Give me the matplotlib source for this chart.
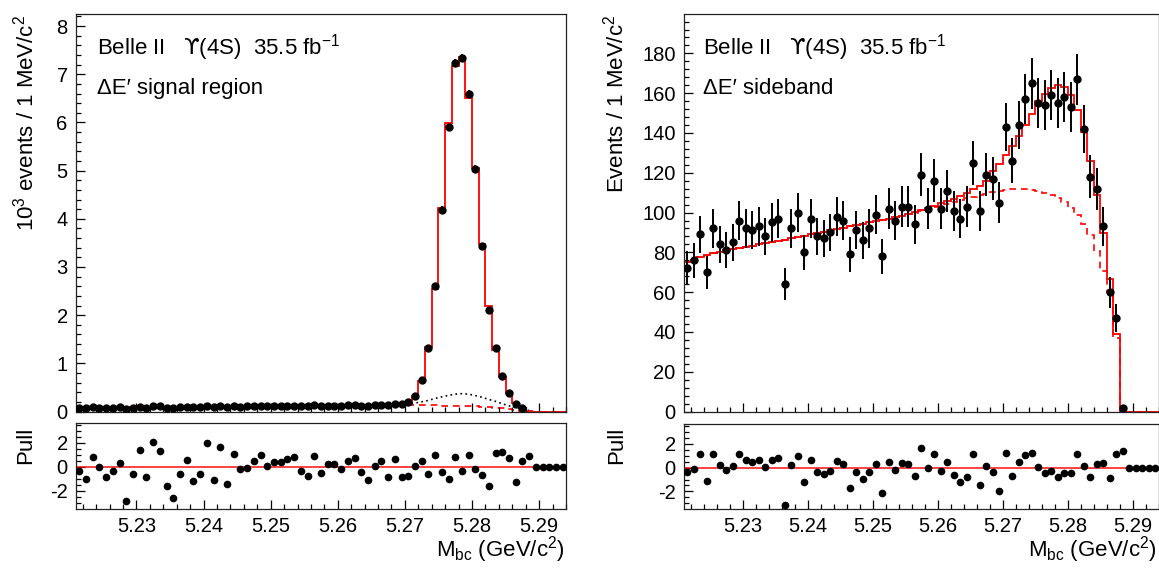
import numpy as np
import matplotlib.pyplot as plt
from matplotlib.ticker import MultipleLocator, FormatStrFormatter

plt.rcParams['font.family'] = ['Liberation Sans', 'DejaVu Sans']
plt.rcParams['mathtext.fontset'] = 'custom'
plt.rcParams['mathtext.rm'] = 'Liberation Sans'
plt.rcParams['mathtext.it'] = 'Liberation Sans:italic'
plt.rcParams['mathtext.bf'] = 'Liberation Sans:bold'
plt.rcParams['mathtext.sf'] = 'DejaVu Sans'
plt.rcParams['mathtext.default'] = 'regular'
plt.rcParams['axes.unicode_minus'] = False

# M_bc binning: 73 bins of 1 MeV/c^2
mbc_lo = 5.221
mbc_hi = 5.294
n_bins = 73

# Delta E' signal region, in units of 10^3 events
sig_data = [0.077, 0.072, 0.089, 0.083, 0.076, 0.082, 0.089, 0.061, 0.083, 0.102,
            0.082, 0.110, 0.105, 0.077, 0.069, 0.090, 0.101, 0.085, 0.092, 0.119,
            0.089, 0.117, 0.087, 0.114, 0.102, 0.104, 0.111, 0.117, 0.109, 0.114,
            0.114, 0.118, 0.120, 0.109, 0.106, 0.125, 0.110, 0.119, 0.120, 0.117,
            0.125, 0.129, 0.118, 0.114, 0.131, 0.141, 0.130, 0.154, 0.147, 0.190,
            0.321, 0.652, 1.310, 2.600, 4.190, 5.900, 7.240, 7.330, 6.590, 5.040,
            3.440, 2.110, 1.310, 0.740, 0.390, 0.160, 0.070, 0, 0, 0, 0, 0, 0]
sig_fit = [0.080, 0.081, 0.082, 0.083, 0.084, 0.085, 0.086, 0.087, 0.088, 0.089,
           0.090, 0.091, 0.092, 0.093, 0.094, 0.095, 0.096, 0.097, 0.098, 0.099,
           0.100, 0.101, 0.102, 0.103, 0.104, 0.105, 0.106, 0.107, 0.108, 0.109,
           0.110, 0.111, 0.112, 0.113, 0.114, 0.115, 0.116, 0.117, 0.118, 0.119,
           0.120, 0.121, 0.123, 0.126, 0.130, 0.136, 0.140, 0.146, 0.158, 0.200,
           0.320, 0.640, 1.330, 2.550, 4.220, 5.980, 7.170, 7.360, 6.510, 5.060,
           3.480, 2.180, 1.270, 0.710, 0.380, 0.180, 0.080, 0.001, 0, 0, 0, 0, 0]
sig_comb = [0.080, 0.081, 0.082, 0.083, 0.084, 0.085, 0.086, 0.087, 0.088, 0.089,
            0.090, 0.091, 0.092, 0.093, 0.094, 0.095, 0.096, 0.097, 0.098, 0.099,
            0.100, 0.101, 0.102, 0.103, 0.104, 0.105, 0.106, 0.107, 0.108, 0.109,
            0.110, 0.111, 0.112, 0.113, 0.114, 0.115, 0.116, 0.117, 0.118, 0.119,
            0.120, 0.121, 0.123, 0.125, 0.126, 0.127, 0.128, 0.128, 0.128, 0.128,
            0.128, 0.127, 0.126, 0.125, 0.124, 0.122, 0.120, 0.117, 0.113, 0.108,
            0.101, 0.093, 0.082, 0.068, 0.050, 0.030, 0.010, 0, 0, 0, 0, 0, 0]
# peaking background (on top of combinatorial), bins 48..67
sig_peak_first = 48
sig_peak = [0.140, 0.155, 0.175, 0.200, 0.230, 0.270, 0.305, 0.335, 0.360, 0.370,
            0.360, 0.330, 0.295, 0.250, 0.210, 0.160, 0.120, 0.080, 0.050, 0.025]
sig_pull = [-0.31, -1.00, 0.78, 0.00, -0.83, -0.31, 0.28, -2.83, -0.56, 1.39,
            -0.83, 2.03, 1.31, -1.61, -2.56, -0.56, 0.53, -1.17, -0.56, 1.97,
            -1.11, 1.61, -1.44, 1.08, -0.19, -0.06, 0.47, 1.00, 0.06, 0.44,
            0.39, 0.67, 0.78, -0.33, -0.75, 0.92, -0.53, 0.22, 0.22, -0.22,
            0.47, 0.75, -0.42, -1.08, 0.06, 0.47, -0.86, 0.64, -0.86, -0.75,
            0.06, 0.47, -0.56, 1.00, -0.42, -1.00, 0.78, -0.33, 1.00, -0.22,
            -0.72, -1.61, 1.17, 1.22, 0.75, -1.28, 0.47, 0.92, 0, 0, 0, 0, 0]

# Delta E' sideband, events per bin
sb_data = [72, 76, 89, 70, 92, 84, 81, 85, 96, 92,
           91, 93, 88, 95, 97, 64, 92, 100, 80, 97,
           88, 87, 90, 98, 96, 79, 91, 86, 92, 99,
           78, 102, 96, 103, 103, 94, 119, 102, 116, 102,
           111, 101, 97, 103, 125, 101, 119, 117, 105, 143,
           126, 144, 157, 165, 155, 154, 159, 155, 158, 153,
           167, 142, 118, 112, 93, 60, 47, 2, 0, 0, 0, 0, 0]
sb_fit = [75.0, 76.3, 77.5, 78.5, 79.5, 80.3, 81.0, 81.6, 82.2, 82.8,
          83.4, 84.0, 84.6, 85.2, 85.8, 86.4, 87.0, 87.6, 88.3, 89.0,
          89.6, 90.3, 91.0, 91.7, 92.3, 93.0, 93.6, 94.3, 95.0, 95.6,
          96.3, 97.0, 97.7, 98.4, 99.2, 100.1, 101.2, 102.3, 103.4, 104.6,
          105.8, 107.0, 108.4, 109.9, 111.6, 113.5, 116.0, 120.7, 124.6, 128.7,
          133.3, 138.5, 144.1, 149.4, 156.0, 159.4, 162.7, 164.1, 163.2, 159.0,
          151.6, 140.5, 125.7, 108.6, 89.6, 66.6, 39.2, 0, 0, 0, 0, 0, 0]
sb_comb = [75.0, 76.3, 77.5, 78.5, 79.5, 80.3, 81.0, 81.6, 82.2, 82.8,
           83.4, 84.0, 84.6, 85.2, 85.8, 86.4, 87.0, 87.6, 88.3, 89.0,
           89.6, 90.3, 91.0, 91.7, 92.3, 93.0, 93.6, 94.3, 95.0, 95.6,
           96.3, 97.0, 97.7, 98.4, 99.2, 100.0, 100.8, 101.7, 102.6, 103.5,
           104.4, 105.3, 106.2, 107.1, 108.0, 108.8, 109.5, 110.2, 110.8, 111.3,
           111.7, 112.0, 111.8, 111.3, 110.6, 109.7, 108.6, 107.2, 105.2, 102.5,
           98.8, 94.2, 88.5, 80.8, 70.8, 60.2, 36.7, 0, 0, 0, 0, 0, 0]
sb_pull = [-0.36, -0.08, 1.11, -1.14, 1.11, 0.22, -0.22, 0.11, 1.11, 0.67,
           0.47, 0.61, 0.03, 0.67, 0.83, -3.17, 0.25, 0.97, -1.19, 0.61,
           -0.36, -0.53, -0.28, 0.53, 0.28, -1.69, -0.36, -0.94, -0.36, 0.31,
           -2.14, 0.47, -0.19, 0.42, 0.33, -0.67, 1.61, -0.03, 1.14, -0.25,
           0.50, -0.61, -1.22, -0.75, 1.11, -1.42, 0.11, -0.39, -1.94, 1.19,
           -0.67, 0.47, 1.06, 1.25, 0.03, -0.42, -0.28, -0.75, -0.42, -0.47,
           1.17, 0.14, -0.75, 0.28, 0.39, -0.89, 1.11, 1.42, 0, 0, 0, 0, 0]

edges = np.linspace(mbc_lo, mbc_hi, n_bins + 1)
centers = 0.5 * (edges[:-1] + edges[1:])

W, H = 1159, 568
fig = plt.figure(figsize=(W / 100, H / 100), dpi=100)


def box(x0, y0, x1, y1):
    # pixel box -> figure fraction
    return [x0 / W, 1 - y1 / H, (x1 - x0) / W, (y1 - y0) / H]


def style(ax, ymaj, ymin, labels=True):
    ax.set_xlim(mbc_lo, mbc_hi)
    ax.xaxis.set_major_locator(MultipleLocator(0.01))
    ax.xaxis.set_minor_locator(MultipleLocator(0.002))
    ax.xaxis.set_major_formatter(FormatStrFormatter('%.2f'))
    ax.yaxis.set_major_locator(MultipleLocator(ymaj))
    ax.yaxis.set_minor_locator(MultipleLocator(ymin))
    ax.tick_params(which='both', direction='in', top=False, right=False,
                   labelsize=14.5, width=0.9, pad=6)
    ax.tick_params(which='major', length=6.8)
    ax.tick_params(which='minor', length=3.4)
    ax.tick_params(axis='x', labelbottom=labels)
    for s in ax.spines.values():
        s.set_linewidth(0.9)
        s.set_color('#222222')


def draw_main(ax, data, fit, comb, err):
    data = np.asarray(data, dtype=float)
    ax.stairs(comb, edges, color='red', lw=1.2, ls=(0, (4, 3)))
    ax.stairs(fit, edges, color='red', lw=1.3)
    keep = data > 0
    ax.errorbar(centers[keep], data[keep], yerr=err[keep], fmt='o', color='black',
                ms=5, elinewidth=1.4, capsize=0, zorder=5)


def draw_pull(ax, pull):
    ax.axhline(0, color='red', lw=1.3, alpha=0.8)
    ax.plot(centers, pull, 'o', color='black', ms=4.5, zorder=5)
    ax.set_ylim(-3.47, 3.65)
    style(ax, 2, 0.5)


lumi = 'Belle II   $\\mathsf{ϒ}$(4S)  35.5 fb$^{-1}$'

# left: signal region
ax_l = fig.add_axes(box(76, 14, 566, 411.5))
sig_arr = np.asarray(sig_data)
draw_main(ax_l, sig_data, sig_fit, sig_comb, np.sqrt(sig_arr * 1000) / 1000)
peak_x = centers[sig_peak_first:sig_peak_first + len(sig_peak)]
ax_l.plot(peak_x, sig_peak, color='black', lw=1.2, ls=(0, (1, 2)))
ax_l.set_ylim(0, 8.25)
style(ax_l, 1, 0.2, labels=False)
ax_l.text(0.042, 0.899, lumi, transform=ax_l.transAxes, fontsize=16, va='baseline')
ax_l.text(0.042, 0.798, 'ΔE′ signal region', transform=ax_l.transAxes,
          fontsize=16, va='baseline')

pl_l = fig.add_axes(box(76, 423, 566, 508.5))
draw_pull(pl_l, sig_pull)

# right: sideband
ax_r = fig.add_axes(box(684, 14, 1158.5, 411.5))
sb_arr = np.asarray(sb_data, dtype=float)
draw_main(ax_r, sb_data, sb_fit, sb_comb, np.sqrt(sb_arr))
ax_r.set_ylim(0, 199.8)
style(ax_r, 20, 4, labels=False)
ax_r.text(0.040, 0.899, lumi, transform=ax_r.transAxes, fontsize=16, va='baseline')
ax_r.text(0.040, 0.798, 'ΔE′ sideband', transform=ax_r.transAxes,
          fontsize=16, va='baseline')

pl_r = fig.add_axes(box(684, 424, 1158.5, 509))
draw_pull(pl_r, sb_pull)

# axis titles, ROOT style (aligned to the top / right end)
fig.text(25.5 / W, 1 - 15 / H, '10$^3$ events / 1 MeV/c$^2$', rotation=90,
         ha='center', va='top', fontsize=16)
fig.text(616 / W, 1 - 15 / H, 'Events / 1 MeV/c$^2$', rotation=90,
         ha='center', va='top', fontsize=16)
fig.text(26 / W, 1 - 427 / H, 'Pull', rotation=90, ha='center', va='top', fontsize=16)
fig.text(617 / W, 1 - 427 / H, 'Pull', rotation=90, ha='center', va='top', fontsize=16)
fig.text(565 / W, 1 - 556.5 / H, 'M$_{bc}$ (GeV/c$^2$)', ha='right', va='baseline',
         fontsize=16)
fig.text(1157 / W, 1 - 556.5 / H, 'M$_{bc}$ (GeV/c$^2$)', ha='right', va='baseline',
         fontsize=16)

fig.savefig('out.png', dpi=100)
